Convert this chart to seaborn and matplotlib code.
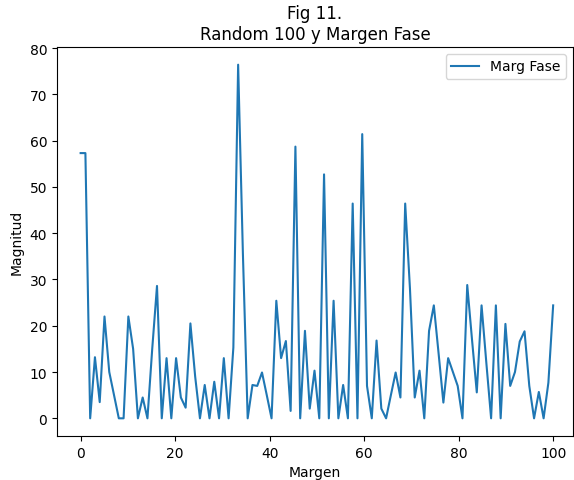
import numpy as np
import pandas as pd
import matplotlib
matplotlib.use("Agg")
import matplotlib.pyplot as plt
import seaborn as sns

# Values (100 samples spread over 0..100)
marg_fase = [
    57.3, 57.3, 0, 13.2, 3.5, 22, 10, 5, 0, 0,
    22, 15, 0, 4.5, 0, 15, 28.6, 0, 13, 0,
    13, 4.5, 2.3, 20.5, 9, 0, 7.2, 0, 7.9, 0,
    13, 0, 15.3, 76.4, 35.5, 0, 7.2, 7, 9.9, 5,
    0, 25.4, 13, 16.7, 1.6, 58.7, 0, 18.9, 2.1, 10.3,
    0, 52.7, 0, 25.4, 0, 7.2, 0, 46.4, 0, 61.4,
    7, 0, 16.8, 2.1, 0, 5, 9.9, 4.5, 46.4, 28,
    4.5, 10.3, 0, 18.9, 24.4, 14, 3.4, 13, 10, 7,
    0, 28.8, 17, 5.6, 24.4, 12, 0, 24.4, 0, 20.4,
    7, 10, 16.6, 18.8, 7, 0, 5.7, 0, 7.7, 24.4,
]
x_start, x_end = 0, 100
margen = np.linspace(x_start, x_end, len(marg_fase))

titulo = "Fig 11.\nRandom 100 y Margen Fase"
xlabel = "Margen"
ylabel = "Magnitud"
serie = "Marg Fase"

df = pd.DataFrame({"Margen": margen, "Magnitud": marg_fase})

fig = plt.figure(figsize=(5.74, 4.81), dpi=100)
W, H = 574, 481
left, right, top, bottom = 57, 573, 48, 437
ax = fig.add_axes([left / W, (H - bottom) / H, (right - left) / W, (bottom - top) / H])

sns.lineplot(data=df, x="Margen", y="Magnitud", ax=ax, label=serie,
             color="#1f77b4", linewidth=1.5)

ax.set_title(titulo, fontsize=12)
ax.set_xlabel(xlabel)
ax.set_ylabel(ylabel)
ax.set_xticks([0, 20, 40, 60, 80, 100])
ax.set_yticks([0, 10, 20, 30, 40, 50, 60, 70, 80])
ax.set_xlim(-5.0, 104.2)
ax.legend(loc="upper right")

fig.savefig("out.png", dpi=100)
